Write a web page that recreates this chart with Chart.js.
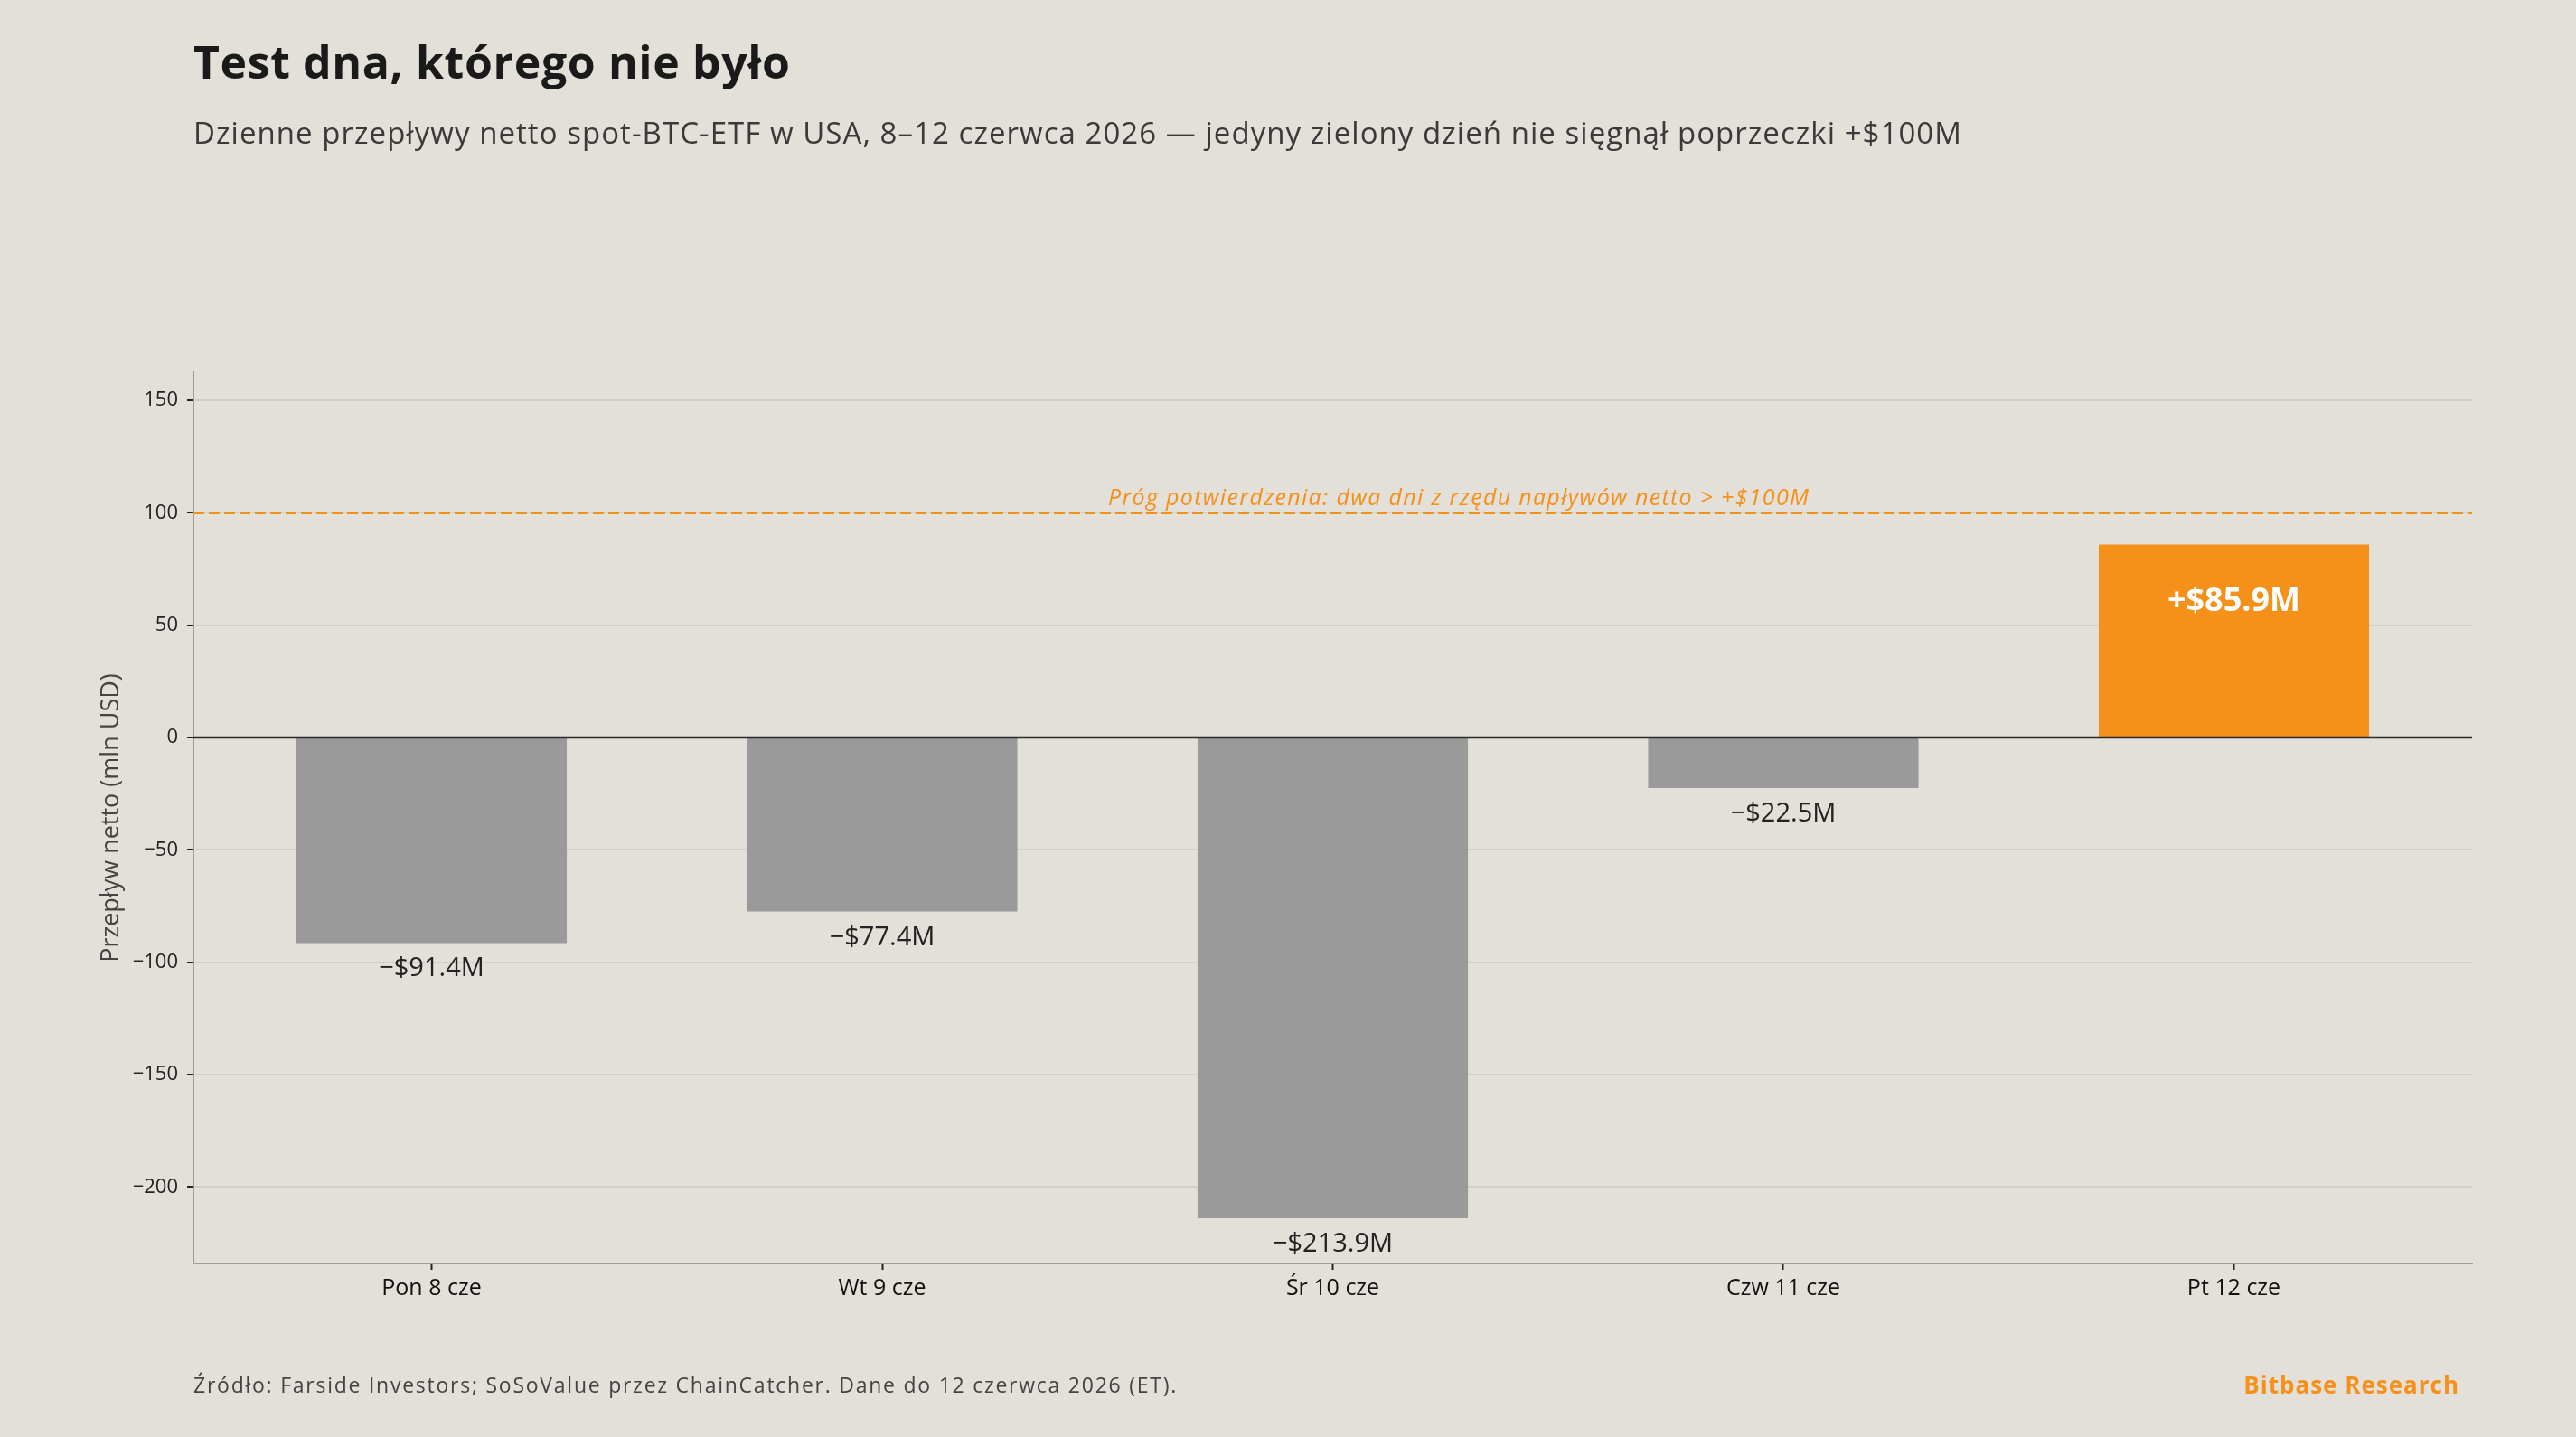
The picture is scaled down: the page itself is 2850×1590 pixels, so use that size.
<!DOCTYPE html>
<html>
<head>
<meta charset="utf-8">
<script src="https://cdn.jsdelivr.net/npm/chart.js@4.4.1/dist/chart.umd.min.js"></script>
<style>
  html, body { margin: 0; padding: 0; background: #e3dfd9; }
  body { width: 2850px; height: 1590px; position: relative; overflow: hidden; font-family: "Open Sans", "DejaVu Sans", sans-serif; }
  #wrap { position: absolute; left: 0; top: 0; width: 2850px; height: 1590px; }
  .txt { position: absolute; white-space: nowrap; line-height: 1; }
  #title { left: 214px; top: 43px; font-size: 50px; font-weight: 700; color: #1a1a1a; letter-spacing: 0.6px; }
  #subtitle { left: 214px; top: 130px; font-size: 33px; font-weight: 400; color: #3a3a3a; letter-spacing: 1.05px; }
  #source { left: 214px; top: 1521px; font-size: 23px; color: #444; letter-spacing: 1.75px; }
  #brand { right: 129px; top: 1519px; font-size: 26px; font-weight: 700; color: #f5901a; letter-spacing: 1px; }
</style>
</head>
<body>
<div id="wrap"><canvas id="c"></canvas></div>
<div class="txt" id="title">Test dna, którego nie było</div>
<div class="txt" id="subtitle">Dzienne przepływy netto spot-BTC-ETF w USA, 8–12 czerwca 2026 — jedyny zielony dzień nie sięgnął poprzeczki +$100M</div>
<div class="txt" id="source">Źródło: Farside Investors; SoSoValue przez ChainCatcher. Dane do 12 czerwca 2026 (ET).</div>
<div class="txt" id="brand">Bitbase Research</div>
<script>
const categories = ["Pon 8 cze", "Wt 9 cze", "Śr 10 cze", "Czw 11 cze", "Pt 12 cze"];
const flows = [-91.4, -77.4, -213.9, -22.5, 85.9];
const threshold = 100;
const thresholdLabel = "Próg potwierdzenia: dwa dni z rzędu napływów netto > +$100M";
const thresholdLabelX = 2.28;
const yTicks = [-200, -150, -100, -50, 0, 50, 100, 150];
const yMin = -234, yMax = 162.5;
const xMin = -0.5286, xMax = 4.5286;

const GRAY = "#9a9a9a";
const ORANGE = "#f5901a";
const FONT = '"Open Sans", "DejaVu Sans", sans-serif';

function fmt(v) {
  const s = Math.abs(v).toFixed(1);
  return (v < 0 ? "\u2212" : "+") + "$" + s + "M";
}

const overlay = {
  id: "overlay",
  afterDatasetsDraw(chart) {
    const ctx = chart.ctx;
    const xs = chart.scales.x, ys = chart.scales.y;
    const area = chart.chartArea;
    ctx.save();
    const y0 = ys.getPixelForValue(0);
    ctx.strokeStyle = "#2a2a2a";
    ctx.lineWidth = 2.5;
    ctx.beginPath(); ctx.moveTo(area.left, y0); ctx.lineTo(area.right, y0); ctx.stroke();
    const yt = ys.getPixelForValue(threshold);
    ctx.strokeStyle = ORANGE;
    ctx.lineWidth = 3;
    ctx.setLineDash([12, 5]);
    ctx.beginPath(); ctx.moveTo(area.left, yt); ctx.lineTo(area.right, yt); ctx.stroke();
    ctx.setLineDash([]);
    ctx.fillStyle = ORANGE;
    ctx.font = "italic 25px " + FONT;
    ctx.textAlign = "center";
    ctx.textBaseline = "alphabetic";
    try { ctx.letterSpacing = "1.3px"; } catch (e) {}
    ctx.fillText(thresholdLabel, xs.getPixelForValue(thresholdLabelX), yt - 8);
    try { ctx.letterSpacing = "0px"; } catch (e) {}
    const meta = chart.getDatasetMeta(0);
    meta.data.forEach((bar, i) => {
      const v = flows[i];
      if (v < 0) {
        ctx.fillStyle = "#222";
        ctx.font = "29px " + FONT;
        ctx.fillText(fmt(v), bar.x, bar.y + 37);
      } else {
        ctx.fillStyle = "#ffffff";
        ctx.font = "bold 36px " + FONT;
        ctx.fillText(fmt(v), bar.x, bar.y + 74);
      }
    });
    ctx.restore();
  }
};

new Chart(document.getElementById("c"), {
  type: "bar",
  data: {
    datasets: [{
      data: flows.map((v, i) => ({ x: i, y: v })),
      backgroundColor: flows.map(v => v < 0 ? GRAY : ORANGE),
      borderWidth: 0,
      barPercentage: 0.6,
      categoryPercentage: 1.0
    }]
  },
  options: {
    responsive: true,
    maintainAspectRatio: false,
    animation: false,
    devicePixelRatio: 1,
    layout: { padding: { left: 0, top: 412, right: 115, bottom: 132 } },
    plugins: { legend: { display: false }, tooltip: { enabled: false }, title: { display: false } },
    scales: {
      x: {
        type: "linear",
        offset: false,
        min: xMin, max: xMax,
        afterBuildTicks: s => { s.ticks = categories.map((_, i) => ({ value: i })); },
        afterFit: s => { s.height = 60; },
        ticks: {
          callback: v => categories[v],
          color: "#111",
          font: { family: FONT, size: 25 },
          padding: 6,
          maxRotation: 0, autoSkip: false
        },
        grid: { display: true, offset: false, drawOnChartArea: false, drawTicks: true, tickLength: 7, tickColor: "#222", tickWidth: 2 },
        border: { display: true, color: "#a09d99", width: 2 }
      },
      y: {
        min: yMin, max: yMax,
        afterBuildTicks: s => { s.ticks = yTicks.map(v => ({ value: v })); },
        afterFit: s => { s.width = 214; },
        ticks: {
          callback: v => (v < 0 ? "\u2212" + Math.abs(v) : String(v)),
          color: "#222",
          font: { family: FONT, size: 22 },
          padding: 10
        },
        grid: { color: "#d3cec8", lineWidth: 2, tickLength: 7, tickColor: "#222", tickWidth: 2 },
        border: { display: true, color: "#a09d99", width: 2 },
        title: {
          display: true,
          text: "Przepływ netto (mln USD)",
          color: "#444",
          font: { family: FONT, size: 27 },
          padding: { top: 107, bottom: 0 }
        }
      }
    }
  },
  plugins: [overlay]
});
</script>
</body>
</html>
